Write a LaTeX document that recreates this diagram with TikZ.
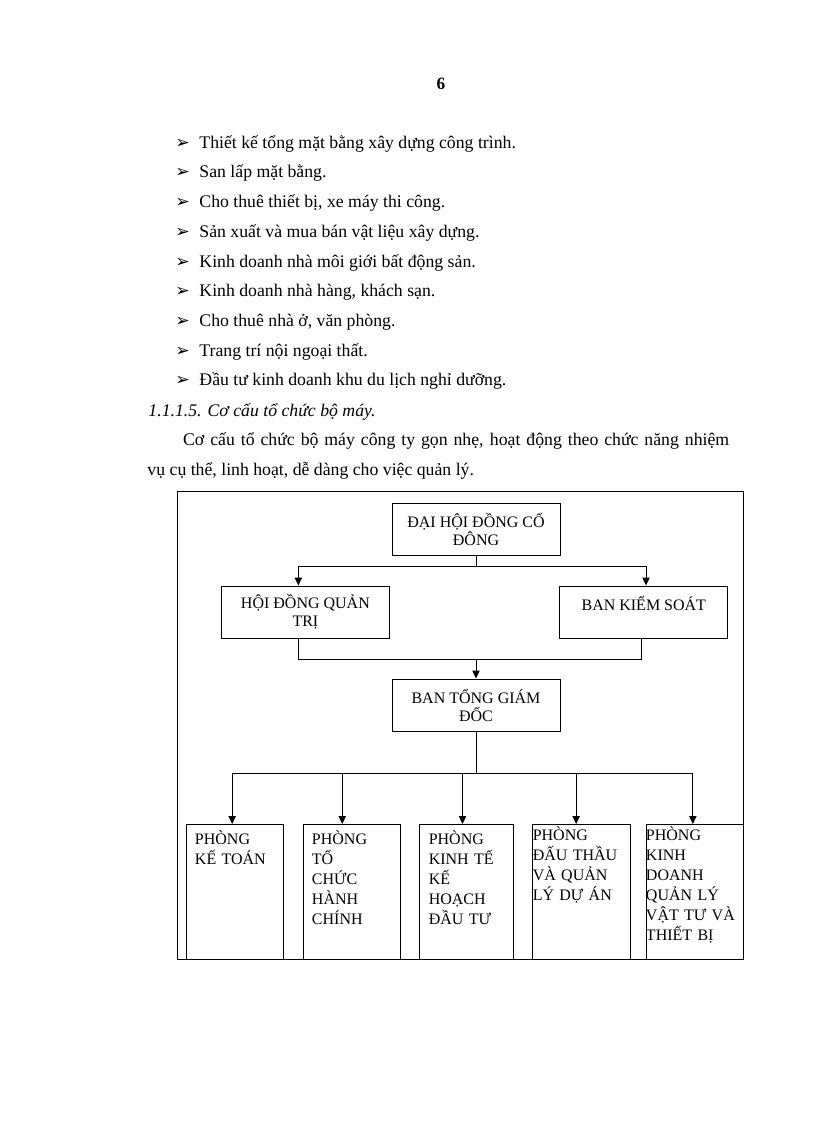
\documentclass[tikz,border=0pt]{standalone}
\usepackage{fontspec}
\setmainfont{Liberation Serif}
\newfontfamily\symfont{DejaVu Sans}
\usetikzlibrary{arrows.meta}
\begin{document}
\begin{tikzpicture}[x=0.75pt,y=-0.75pt,>={Triangle[length=6pt,width=5.5pt]},line width=0.7pt,
	box/.style={draw,minimum width=126pt,minimum height=39pt,inner sep=0pt,align=center,font=\fontsize{12}{13.5}\selectfont},
	dept/.style={draw,anchor=north west,align=left,inner sep=0pt,inner xsep=6.75pt,text height=15pt,text depth=86.25pt,font=\fontsize{12}{15}\selectfont},
	deptb/.style={dept,inner xsep=0pt,text height=12pt,text depth=89.25pt},
	body/.style={anchor=base west,inner sep=0pt,font=\fontsize{13.3}{15}\selectfont}]
	\useasboundingbox (0,0) rectangle (816,1123);
	\node[body,anchor=base,font=\fontsize{13}{15}\selectfont\bfseries] (trang) at (441,90) {6};
	% Ngành nghề
	\foreach \t [count=\i] in {Thiết kế tổng mặt bằng xây dựng công trình.,San lấp mặt bằng.,{Cho thuê thiết bị, xe máy thi công.},Sản xuất và mua bán vật liệu xây dựng.,Kinh doanh nhà môi giới bất động sản.,{Kinh doanh nhà hàng, khách sạn.},{Cho thuê nhà ở, văn phòng.},Trang trí nội ngoại thất.,Đầu tư kinh doanh khu du lịch nghỉ dưỡng.}
		\node[body] (muc\i) at (175,{148.3+29.7*(\i-1)}) {\makebox[18pt][l]{\symfont\fontsize{13}{13}\selectfont ➢}\t};
	\node[body,font=\fontsize{13.3}{15}\selectfont\itshape] (tieude) at (148,416) {1.1.1.5. Cơ cấu tổ chức bộ máy.};
	\node[body] (doan1) at (182.7,445.5) {\makebox[409.5pt][s]{Cơ cấu tổ chức bộ máy công ty gọn nhẹ, hoạt động theo chức năng nhiệm}};
	\node[body] (doan2) at (147,475) {vụ cụ thể, linh hoạt, dễ dàng cho việc quản lý.};
	% Sơ đồ
	\draw (177,491) rectangle (743.5,959);
	\node[box] (dhcd) at (476,529) {ĐẠI HỘI ĐỒNG CỔ\\ĐÔNG};
	\node[box] (hdqt) at (305.4,612) {HỘI ĐỒNG QUẢN\\TRỊ};
	\node[box] (bks) at (643.8,612) {BAN KIỂM SOÁT\\\mbox{}};
	\node[box] (btgd) at (476,705) {BAN TỔNG GIÁM\\ĐỐC};
	\node[dept,text width=59.6pt] (ketoan) at (185.5,824) {PHÒNG\\KẾ TOÁN};
	\node[dept,text width=59.6pt] (tochuc) at (302.5,824) {PHÒNG\\TỔ\\CHỨC\\HÀNH\\CHÍNH};
	\node[dept,text width=57pt] (kinhte) at (419.3,824) {PHÒNG\\KINH TẾ\\KẾ\\HOẠCH\\ĐẦU TƯ};
	\node[deptb,text width=73.3pt] (dauthau) at (532.3,824) {PHÒNG\\ĐẤU THẦU\\VÀ QUẢN\\LÝ DỰ ÁN};
	\node[deptb,text width=73pt] (vattu) at (645.5,824) {PHÒNG\\KINH\\DOANH\\QUẢN LÝ\\VẬT TƯ VÀ\\THIẾT BỊ};
	\coordinate (bus1) at (476,566);
	\coordinate (bus2) at (476,659);
	\coordinate (bus3) at (476,773);
	\draw (dhcd) -- (bus1);
	\draw[->] (bus1) -| ([xshift=-5.3pt]hdqt.north);
	\draw[->] (bus1) -| ([xshift=1.65pt]bks.north);
	\draw ([xshift=-5.3pt]hdqt.south) |- (bus2);
	\draw ([xshift=-2.1pt]bks.south) |- (bus2);
	\draw[->] (bus2) -- (btgd);
	\draw (btgd) -- (bus3);
	\draw[->] (bus3) -| ([xshift=-1.9pt]ketoan.north);
	\draw[->] (bus3) -| ([xshift=-7.1pt]tochuc.north);
	\draw[->] (bus3) -| ([xshift=-3.2pt]kinhte.north);
	\draw[->] (bus3) -| ([xshift=-4.1pt]dauthau.north);
	\draw[->] (bus3) -| ([xshift=-1.35pt]vattu.north);
\end{tikzpicture}
\end{document}
